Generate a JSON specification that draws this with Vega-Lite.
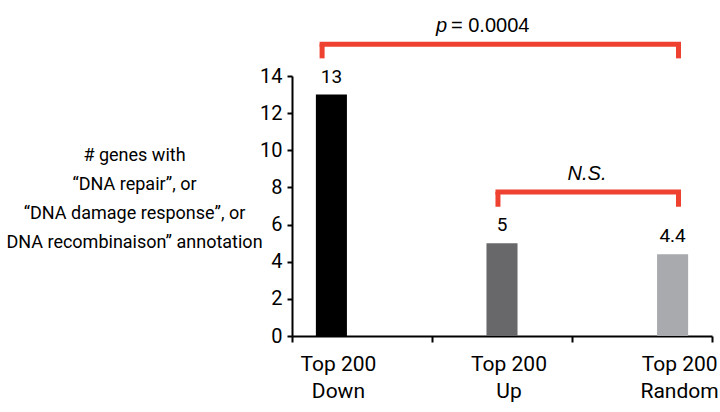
{
  "$schema": "https://vega.github.io/schema/vega-lite/v6.json",
  "width": 420,
  "height": 260,
  "autosize": {"type": "none"},
  "padding": {"left": 292, "top": 76, "right": 8, "bottom": 76},
  "background": "white",
  "config": {
    "view": {"stroke": null},
    "font": "Roboto"
  },
  "datasets": {
    "bars": [
      {"group": "Down", "count": 13},
      {"group": "Up", "count": 5},
      {"group": "Random", "count": 4.4}
    ],
    "brackets": [
      {"test": "p", "from": "Down", "to": "Random", "y": 15.71, "yLeg": 14.95, "labelY": 16.39},
      {"test": "NS", "from": "Up", "to": "Random", "y": 7.75, "yLeg": 6.96, "labelY": 8.4}
    ],
    "ticks": [{"pos": 0}, {"pos": 1}, {"pos": 2}, {"pos": 3}]
  },
  "layer": [
    {
      "layer": [
        {
          "data": {"name": "bars"},
          "mark": {"type": "bar"},
          "encoding": {
            "x": {
              "field": "group", "type": "nominal", "sort": ["Down", "Up", "Random"],
              "scale": {"type": "band", "domain": ["Down", "Up", "Random"], "paddingInner": 0.818, "paddingOuter": 0.14},
              "axis": {
                "orient": "bottom", "domain": false, "ticks": false, "title": null,
                "labelExpr": "['Top 200', datum.label]", "labelAngle": 0, "labelAlign": "center",
                "labelFontSize": 21, "labelLineHeight": 27, "labelPadding": 17,
                "labelOffset": 7, "labelColor": "#000000", "labelBaseline": "top",
                "labelOverlap": false, "labelFlush": false
              }
            },
            "y": {
              "field": "count", "type": "quantitative",
              "scale": {"domain": [0, 14], "nice": false},
              "axis": {
                "values": [0, 2, 4, 6, 8, 10, 12, 14], "tickCount": 20, "format": "d", "grid": false,
                "domainColor": "#000000", "domainWidth": 2,
                "tickColor": "#000000", "tickWidth": 2, "tickSize": 5,
                "labelFontSize": 20, "labelColor": "#000000", "labelPadding": 5,
                "labelOverlap": false, "labelFlush": false,
                "title": ["# genes with", "\u201cDNA repair\u201d, or", "\u201cDNA damage response\u201d, or", "DNA recombinaison\u201d annotation"],
                "titleAngle": 0, "titleAlign": "center", "titleBaseline": "middle",
                "titleX": -158, "titleY": 79, "titleFontSize": 18, "titleFontWeight": "normal",
                "titleLineHeight": 29, "titleColor": "#000000"
              }
            },
            "color": {
              "field": "group", "type": "nominal",
              "scale": {"domain": ["Down", "Up", "Random"], "range": ["#000000", "#68686b", "#a8aaad"]},
              "legend": null
            }
          }
        },
        {
          "data": {"name": "bars"},
          "mark": {"type": "text", "baseline": "alphabetic", "dy": -12, "fontSize": 19, "color": "#000000"},
          "encoding": {
            "x": {"field": "group", "type": "nominal"},
            "y": {"field": "count", "type": "quantitative"},
            "text": {"field": "count", "type": "quantitative"}
          }
        },
        {
          "data": {"name": "brackets"},
          "transform": [{"filter": "datum.test == 'p'"}],
          "layer": [
            {
              "mark": {"type": "rule", "color": "#ee4130", "strokeWidth": 5, "strokeCap": "square"},
              "encoding": {
                "x": {"field": "from", "type": "nominal", "bandPosition": 0.2},
                "x2": {"field": "to", "bandPosition": 0.69},
                "y": {"field": "y", "type": "quantitative"}
              }
            },
            {
              "mark": {"type": "rule", "color": "#ee4130", "strokeWidth": 5},
              "encoding": {
                "x": {"field": "from", "type": "nominal", "bandPosition": 0.2},
                "y": {"field": "y", "type": "quantitative"},
                "y2": {"field": "yLeg"}
              }
            },
            {
              "mark": {"type": "rule", "color": "#ee4130", "strokeWidth": 5},
              "encoding": {
                "x": {"field": "to", "type": "nominal", "bandPosition": 0.69},
                "y": {"field": "y", "type": "quantitative"},
                "y2": {"field": "yLeg"}
              }
            },
            {
              "mark": {"type": "text", "text": "p", "font": "Liberation Sans", "fontStyle": "italic", "fontSize": 20, "align": "right", "baseline": "alphabetic", "dx": -55, "color": "#000000"},
              "encoding": {
                "x": {"datum": "Up", "type": "nominal"},
                "y": {"field": "labelY", "type": "quantitative"}
              }
            },
            {
              "mark": {"type": "text", "text": "= 0.0004", "font": "Liberation Sans", "fontSize": 20, "align": "left", "baseline": "alphabetic", "dx": -51, "color": "#000000"},
              "encoding": {
                "x": {"datum": "Up", "type": "nominal"},
                "y": {"field": "labelY", "type": "quantitative"}
              }
            }
          ]
        },
        {
          "data": {"name": "brackets"},
          "transform": [{"filter": "datum.test == 'NS'"}],
          "layer": [
            {
              "mark": {"type": "rule", "color": "#ee4130", "strokeWidth": 5, "strokeCap": "square"},
              "encoding": {
                "x": {"field": "from", "type": "nominal", "bandPosition": 0.37},
                "x2": {"field": "to", "bandPosition": 0.69},
                "y": {"field": "y", "type": "quantitative"}
              }
            },
            {
              "mark": {"type": "rule", "color": "#ee4130", "strokeWidth": 5},
              "encoding": {
                "x": {"field": "from", "type": "nominal", "bandPosition": 0.37},
                "y": {"field": "y", "type": "quantitative"},
                "y2": {"field": "yLeg"}
              }
            },
            {
              "mark": {"type": "rule", "color": "#ee4130", "strokeWidth": 5},
              "encoding": {
                "x": {"field": "to", "type": "nominal", "bandPosition": 0.69},
                "y": {"field": "y", "type": "quantitative"},
                "y2": {"field": "yLeg"}
              }
            },
            {
              "mark": {"type": "text", "text": "N.S.", "font": "Liberation Sans", "fontStyle": "italic", "fontSize": 20, "align": "center", "baseline": "alphabetic", "dx": 85, "color": "#000000"},
              "encoding": {
                "x": {"datum": "Up", "type": "nominal"},
                "y": {"field": "labelY", "type": "quantitative"}
              }
            }
          ]
        }
      ]
    },
    {
      "data": {"name": "ticks"},
      "mark": {"type": "tick", "opacity": 0},
      "encoding": {
        "x": {
          "field": "pos", "type": "quantitative",
          "scale": {"domain": [0, 3], "nice": false, "zero": false},
          "axis": {
            "orient": "bottom", "values": [0, 1, 2, 3], "tickCount": 10, "labels": false, "grid": false, "title": null,
            "domainColor": "#000000", "domainWidth": 2,
            "tickColor": "#000000", "tickWidth": 2, "tickSize": 6
          }
        }
      }
    }
  ],
  "resolve": {"scale": {"x": "independent"}}
}
